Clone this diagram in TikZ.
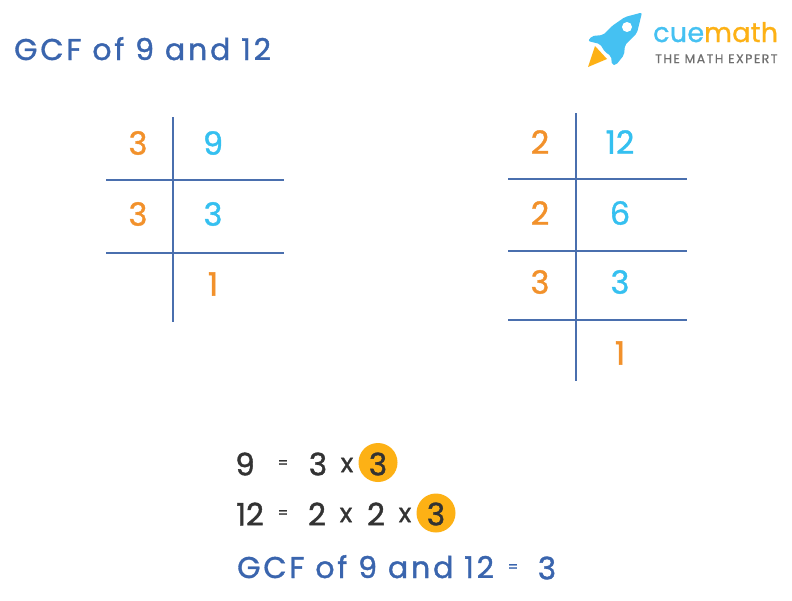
\documentclass[tikz,border=0pt]{standalone}
\usepackage{fontspec}
\setmainfont{Poppins}[FakeBold=1.2]
\newfontfamily\spacedf{Poppins}[LetterSpace=9.5,FakeBold=1.2]
\newfontfamily\logof{Poppins}[FakeBold=1,LetterSpace=1]
\newfontfamily\tagf{Poppins}[LetterSpace=12,FakeBold=0.5]
\definecolor{bluet}{HTML}{3A65AE}
\definecolor{linec}{HTML}{4A6FAE}
\definecolor{oran}{HTML}{F2912B}
\definecolor{cyanc}{HTML}{35C0F0}
\definecolor{logoc}{HTML}{45C1F2}
\definecolor{dark}{HTML}{333333}
\definecolor{yel}{HTML}{FDB115}
\definecolor{grayt}{HTML}{6E6E6E}
\tikzset{
 px/.style={x=1pt,y=-1pt},
 ln/.style={draw=linec,line width=1.1pt},
 fo/.style={text=oran,font=\fontsize{32}{32}\selectfont,inner sep=0},
 fc/.style={text=cyanc,font=\fontsize{32}{32}\selectfont,inner sep=0},
 eq/.style={text=dark,font=\fontsize{31}{31}\selectfont,inner sep=0},
 sm/.style={text=dark,font=\fontsize{15}{15}\selectfont,inner sep=0},
 ci/.style={circle,fill=yel,minimum size=39pt,inner sep=0},
 ti/.style={text=bluet,font=\spacedf\fontsize{30}{30}\selectfont,inner sep=0,anchor=base west}
}
\begin{document}
\begin{tikzpicture}[px]
\useasboundingbox (0,0) rectangle (792,600);
\fill[white] (0,0) rectangle (792,600);
\node[ti] (title) at (14,60) {GCF of 9 and 12};
% left table
\coordinate (a1) at (173,117); \coordinate (a2) at (173,322);
\coordinate (a3) at (106,180); \coordinate (a4) at (284,180);
\coordinate (a5) at (106,253); \coordinate (a6) at (284,253);
\draw[ln] (a1)--(a2); \draw[ln] (a3)--(a4); \draw[ln] (a5)--(a6);
\node[fo] (l1) at (138,143) {3};
\node[fc] (l2) at (213,143) {9};
\node[fo] (l3) at (138,214) {3};
\node[fc] (l4) at (213,214) {3};
\node[fo] (l5) at (213,284) {1};
% right table
\coordinate (b1) at (576,113); \coordinate (b2) at (576,381);
\coordinate (b3) at (508,179); \coordinate (b4) at (687,179);
\coordinate (b5) at (508,251); \coordinate (b6) at (687,251);
\coordinate (b7) at (508,320); \coordinate (b8) at (687,320);
\draw[ln] (b1)--(b2); \draw[ln] (b3)--(b4); \draw[ln] (b5)--(b6); \draw[ln] (b7)--(b8);
\node[fo] (r1) at (540,142) {2};
\node[fc] (r2) at (620,142) {12};
\node[fo] (r3) at (540,213) {2};
\node[fc] (r4) at (620,213) {6};
\node[fo] (r5) at (540,282) {3};
\node[fc] (r6) at (620,282) {3};
\node[fo] (r7) at (620,353) {1};
% equations
\node[ci] (c1) at (378,462.5) {};
\node[ci] (c2) at (436,513) {};
\node[eq] (e1) at (245,464) {9};
\node[sm] (e2) at (283,464) {=};
\node[eq] (e3) at (318,464) {3};
\node[eq,font=\fontsize{26}{26}\selectfont] (e4) at (347,465) {x};
\node[eq] (e5) at (378,464) {3};
\node[eq] (f1) at (250,514) {12};
\node[sm] (f2) at (283,514) {=};
\node[eq] (f3) at (317,514) {2};
\node[eq,font=\fontsize{26}{26}\selectfont] (f4) at (346,515) {x};
\node[eq] (f5) at (376,514) {2};
\node[eq,font=\fontsize{26}{26}\selectfont] (f6) at (405,515) {x};
\node[eq] (f7) at (436,514) {3};
\node[ti] (g1) at (237,578) {GCF of 9 and 12};
\node[ti,font=\fontsize{15}{15}\selectfont,anchor=center] (g2) at (513,568) {=};
\node[ti,anchor=center,font=\fontsize{31}{31}\selectfont] (g3) at (547,568) {3};
% logo
\node[anchor=base west,inner sep=0,text=logoc,font=\logof\fontsize{27}{27}\selectfont] (cue) at (653,42) {cue\textcolor{yel}{math}};
\node[anchor=base west,inner sep=0,text=grayt,font=\tagf\fontsize{12.4}{13}\selectfont] (tag) at (655,63) {THE MATH EXPERT};
% rocket
\fill[yel] (595,46) -- (588,67) -- (607,59) -- cycle;
\fill[logoc,rounded corners=2pt] (642,12.5) -- (625,17) -- (612,26) -- (603,35) -- (592,36) -- (588,41) -- (600,44) -- (605,52) -- (611,56) -- (612,65) -- (616,65) -- (624,55) -- (625,45) -- (637,33) -- cycle;
\fill[white] (627,27) circle (5);
\end{tikzpicture}
\end{document}
